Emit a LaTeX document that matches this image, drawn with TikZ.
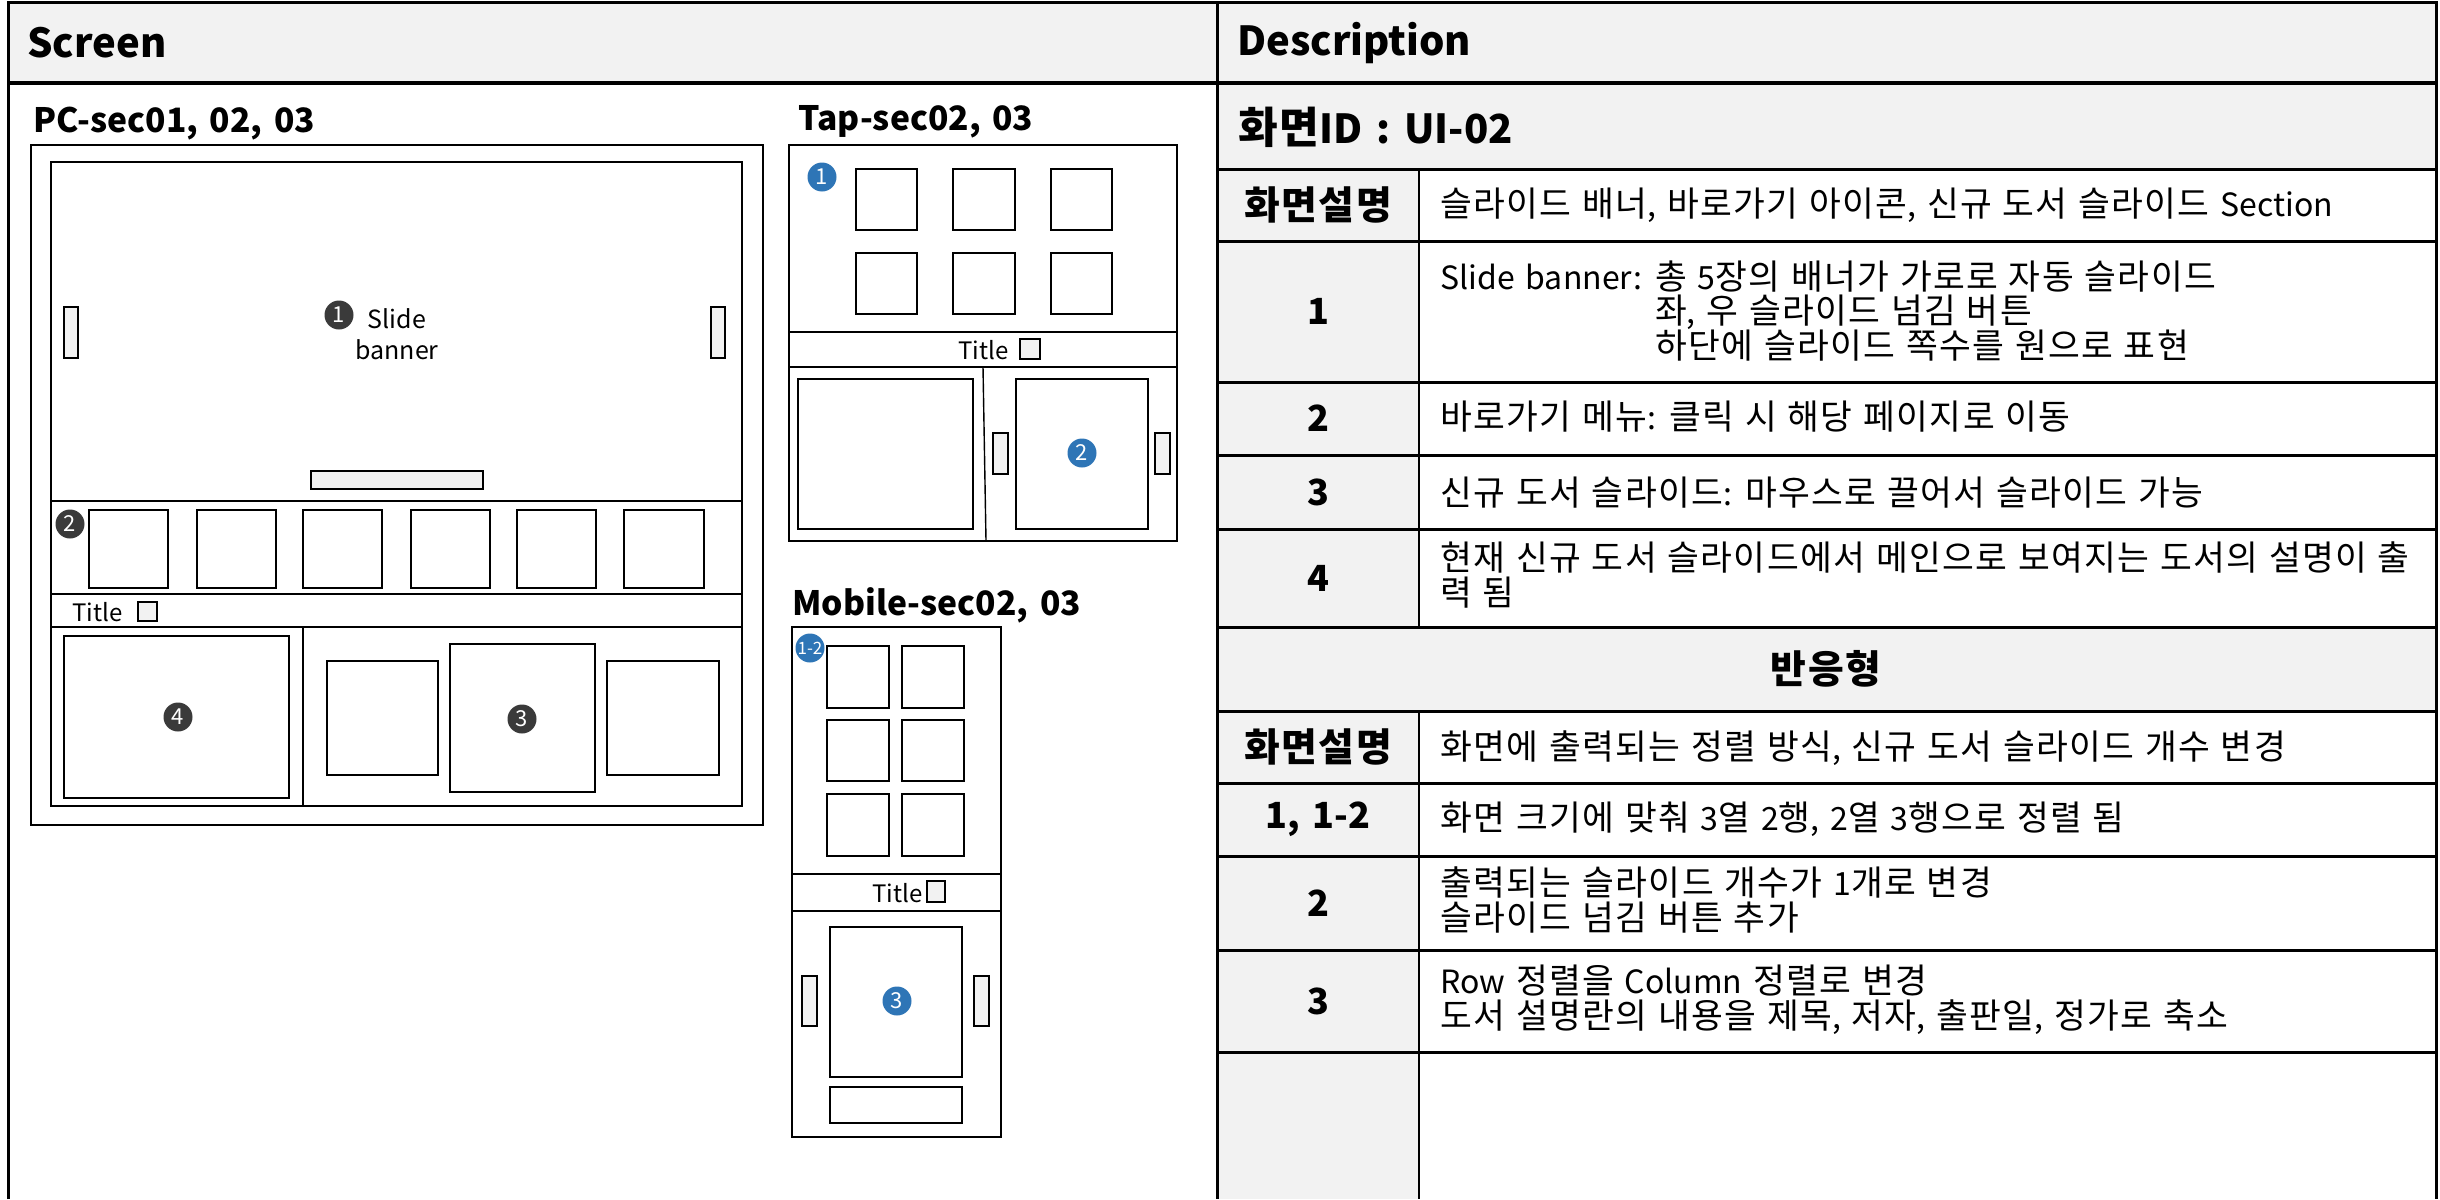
\documentclass[tikz,border=0pt]{standalone}
\usepackage{fontspec}
\setmainfont{Noto Sans CJK KR}[WordSpace=1.5]
\newfontfamily\hgfont{Noto Sans CJK KR}[Scale=1.08, LetterSpace=4]
% Hangul syllables drawn a little wider than Latin (as in the reference font)
\XeTeXinterchartokenstate=1
\newXeTeXintercharclass\HGclass
\count255="AC00
\loop
  \XeTeXcharclass\count255=\HGclass
  \ifnum\count255<"D7A3 \advance\count255 by 1
\repeat
\XeTeXinterchartoks 0 \HGclass = {\hgfont}
\XeTeXinterchartoks 4095 \HGclass = {\hgfont}
\XeTeXinterchartoks \HGclass 0 = {\rmfamily}
\XeTeXinterchartoks \HGclass 4095 = {\rmfamily}
\definecolor{hdr}{HTML}{F2F2F2}
\definecolor{dk}{HTML}{3A3A3A}
\definecolor{bl}{HTML}{2E75B6}
\tikzset{
  tline/.style={draw=black, line width=1.5pt},
  thline/.style={draw=black, line width=1.9pt},
  vline/.style={draw=black, line width=1pt},
  frm/.style={draw=black, line width=1.3pt},
  sq/.style={draw=black, line width=1.3pt, fill=white},
  gsq/.style={draw=black, line width=0.8pt, fill=hdr},
  thin/.style={draw=black, line width=0.7pt},
  dnum/.style={circle, fill=dk, text=white, inner sep=0pt, minimum size=14.5pt, font=\fontsize{11}{11}\selectfont},
  bnum/.style={circle, fill=bl, text=white, inner sep=0pt, minimum size=14.5pt, font=\fontsize{11}{11}\selectfont},
  htext/.style={anchor=west, inner sep=0pt, font=\fontsize{20}{24}\selectfont\bfseries},
  ttext/.style={anchor=west, inner sep=0pt, font=\fontsize{16.8}{20}\selectfont\bfseries},
  lab/.style={inner sep=0pt, font=\fontsize{18}{22}\selectfont\bfseries},
  ctext/.style={anchor=west, inner sep=0pt, align=left, font=\fontsize{16}{17.4}\selectfont},
  stext/.style={inner sep=0pt, font=\fontsize{12}{14}\selectfont},
}
\begin{document}
\lineskiplimit=-20pt
\begin{tikzpicture}[x=0.5pt,y=-0.5pt]
\useasboundingbox (0,0) rectangle (2440,1199);
% ---------- table fills ----------
\fill[hdr] (8,2) rectangle (2436,83);
\fill[hdr] (1217,83) rectangle (2436,169);
\fill[hdr] (1217,169) rectangle (1419,627);
\fill[hdr] (1217,627) rectangle (2436,711);
\fill[hdr] (1217,711) rectangle (1419,1199);
% ---------- table lines ----------
\draw[tline] (8,1199) -- (8,2) -- (2436,2) -- (2436,1199);
\draw[tline] (1217,2) -- (1217,1199);
\draw[thline] (8,83) -- (2436,83);
\foreach \yy in {169,241,382,455,529,627,711,783,856,950,1052}
  \draw[tline] (1217,\yy) -- (2436,\yy);
\draw[vline] (1419,169) -- (1419,627);
\draw[vline] (1419,711) -- (1419,1199);
% ---------- header texts ----------
\node[htext] (scr) at (27,43) {Screen};
\node[htext] (desc) at (1237,43) {Description};
\node[htext] (sid) at (1238,127) {화면ID : UI-02};
% ---------- labels ----------
\node[lab] (l0) at (1318,205) {화면설명};
\node[lab] (l1) at (1318,311) {1};
\node[lab] (l2) at (1318,418) {2};
\node[lab] (l3) at (1318,492) {3};
\node[lab] (l4) at (1318,578) {4};
\node[lab] (lr) at (1826,669) {반응형};
\node[lab] (m0) at (1318,747) {화면설명};
\node[lab] (m1) at (1318,819) {1, 1-2};
\node[lab] (m2) at (1318,903) {2};
\node[lab] (m3) at (1318,1001) {3};
% ---------- contents ----------
\node[ctext] (c0) at (1440,205) {슬라이드 배너, 바로가기 아이콘, 신규 도서 슬라이드 Section};
\node[ctext] (c1) at (1440,311) {Slide banner: 총 5장의 배너가 가로로 자동 슬라이드\\\phantom{Slide banner: }좌, 우 슬라이드 넘김 버튼\\\phantom{Slide banner: }하단에 슬라이드 쪽수를 원으로 표현};
\node[ctext] (c2) at (1440,417) {바로가기 메뉴: 클릭 시 해당 페이지로 이동};
\node[ctext] (c3) at (1440,493) {신규 도서 슬라이드: 마우스로 끌어서 슬라이드 가능};
\node[ctext] (c4) at (1440,575) {현재 신규 도서 슬라이드에서 메인으로 보여지는 도서의 설명이 출\\력 됨};
\node[ctext] (d0) at (1440,748) {화면에 출력되는 정렬 방식, 신규 도서 슬라이드 개수 변경};
\node[ctext] (d1) at (1440,819) {화면 크기에 맞춰 3열 2행, 2열 3행으로 정렬 됨};
\node[ctext] (d2) at (1440,900) {출력되는 슬라이드 개수가 1개로 변경\\슬라이드 넘김 버튼 추가};
\node[ctext] (d3) at (1440,1000) {Row 정렬을 Column 정렬로 변경\\도서 설명란의 내용을 제목, 저자, 출판일, 정가로 축소};
% ================= PC =================
\node[ttext] (pct) at (33,124) {PC-sec01, 02, 03};
\draw[frm] (31,145) rectangle (763,825);
\draw[frm] (51,162) rectangle (742,806);
\draw[frm] (51,501) -- (742,501);
\draw[frm] (51,594) -- (742,594);
\draw[frm] (51,627) -- (742,627);
\draw[thin] (303,627) -- (303,806);
\draw[gsq] (64,307) rectangle (78,358);
\draw[gsq] (711,307) rectangle (725,358);
\draw[gsq] (311,471) rectangle (483,489);
\node[dnum] (p1) at (339,315) {1};
\node[inner sep=0pt, align=center, font=\fontsize{12.5}{15.5}\selectfont] (pst) at (397,334) {Slide\\banner};
\foreach \xa/\xb in {89/168, 197/276, 303/382, 411/490, 517/596, 624/704}
  \draw[sq] (\xa,510) rectangle (\xb,588);
\node[dnum] (p2) at (70,524) {2};
\node[stext, anchor=west] (ptt) at (72,612) {Title};
\draw[gsq] (138,602) rectangle (157,621);
\draw[sq] (64,636) rectangle (289,798);
\node[dnum] (p4) at (178,717) {4};
\draw[sq] (327,661) rectangle (438,775);
\draw[sq] (450,644) rectangle (595,792);
\draw[sq] (607,661) rectangle (719,775);
\node[dnum] (p3) at (522,719) {3};
% ================= Tap =================
\node[ttext] (tpt) at (798,122) {Tap-sec02, 03};
\draw[frm] (789,145) rectangle (1177,541);
\draw[frm] (789,332) -- (1177,332);
\draw[frm] (789,367) -- (1177,367);
\foreach \xa/\xb in {856/917, 953/1015, 1051/1112}
  \foreach \ya/\yb in {169/230, 253/314}
    \draw[sq] (\xa,\ya) rectangle (\xb,\yb);
\node[bnum] (t1) at (822,177) {1};
\node[stext, anchor=west] (ttt) at (958,350) {Title};
\draw[gsq] (1020,339) rectangle (1040,359);
\draw[thin] (983,367) -- (986,541);
\draw[sq] (798,379) rectangle (973,529);
\draw[sq] (1016,379) rectangle (1148,529);
\draw[gsq] (993,433) rectangle (1008,474);
\draw[gsq] (1155,433) rectangle (1170,474);
\node[bnum] (t2) at (1082,453) {2};
% ================= Mobile =================
\node[ttext] (mbt) at (792,605) {Mobile-sec02, 03};
\draw[frm] (792,627) rectangle (1001,1137);
\draw[frm] (792,874) -- (1001,874);
\draw[frm] (792,911) -- (1001,911);
\foreach \xa/\xb in {827/889, 902/964}
  \foreach \ya/\yb in {646/708, 720/781, 794/856}
    \draw[sq] (\xa,\ya) rectangle (\xb,\yb);
\node[bnum, font=\fontsize{8.5}{9}\selectfont] (m12) at (810,648) {1-2};
\node[stext, anchor=west] (mtt) at (872,893) {Title};
\draw[gsq] (927,881) rectangle (945,902);
\draw[sq] (830,927) rectangle (962,1077);
\draw[sq] (830,1087) rectangle (962,1123);
\draw[gsq] (802,976) rectangle (817,1026);
\draw[gsq] (974,976) rectangle (989,1026);
\node[bnum] (m3c) at (897,1001) {3};
\end{tikzpicture}
\end{document}
